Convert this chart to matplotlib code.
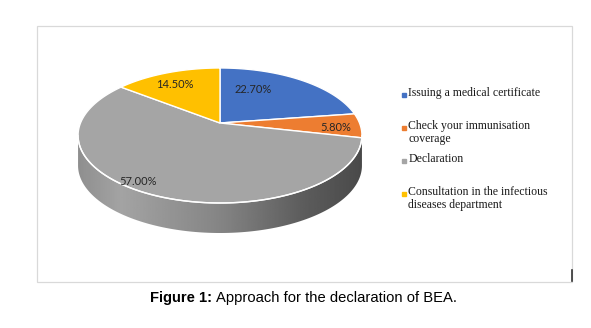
import matplotlib
matplotlib.use("Agg")
import matplotlib.pyplot as plt
import numpy as np
from matplotlib.patches import Polygon, Rectangle

# Data
categories = ["Issuing a medical certificate",
              "Check your immunisation\ncoverage",
              "Declaration",
              "Consultation in the infectious\ndiseases department"]
shares = [22.70, 5.80, 57.00, 14.50]
colors = ["#4472c4", "#ed7d31", "#a5a5a5", "#ffc000"]

W, H = 591, 328
fig = plt.figure(figsize=(W / 100, H / 100), dpi=100)

# whole-figure axes in pixel units
ax = fig.add_axes([0, 0, 1, 1])
ax.set_xlim(0, W)
ax.set_ylim(H, 0)
ax.axis("off")

# chart frame
ax.add_patch(Rectangle((37, 26), 572 - 37, 282 - 26, fill=False, ec="#d9d9d9", lw=0.9))
ax.plot([572, 572], [270, 281], color="#333333", lw=1.2)

# tilted disc seen in perspective
cx, cy = 220, 123          # centre of the pie on screen
sx, sy = 139.5, 65.2       # scale
e = 0.185                  # perspective strength
depth = 30


def project(r, phi):
    d = 1 + e * r * np.sin(phi)
    return cx + sx * r * np.cos(phi) / d, cy - sy * r * np.sin(phi) / d


# side of the disc, shaded
a0 = np.pi + np.arcsin(e)
t = np.linspace(a0, 3 * np.pi - a0, 200)
tx, ty = project(1.0, t)
side_xy = np.concatenate([np.c_[tx, ty], np.c_[tx[::-1], ty[::-1] + depth]])
side = Polygon(side_xy, closed=True, fc="none", ec="none")
ax.add_patch(side)
gx = np.linspace(0, 1, 256)
shade = np.interp(gx, [0, 0.15, 0.5, 0.8, 1.0], [0.56, 0.64, 0.52, 0.36, 0.29])
img = ax.imshow(np.tile(shade, (10, 1)), cmap="gray", vmin=0, vmax=1,
                extent=(tx.min(), tx.max(), ty.max() + depth + 2, cy), aspect="auto", zorder=1)
img.set_clip_path(side)

# top surface wedges, clockwise from 12 o'clock
cum = np.concatenate([[0], np.cumsum(shares)]) / 100.0
for i, c in enumerate(colors):
    a1 = np.deg2rad(90 - cum[i] * 360)
    a2 = np.deg2rad(90 - cum[i + 1] * 360)
    px, py = project(1.0, np.linspace(a1, a2, 150))
    pts = np.vstack([[cx, cy], np.c_[px, py]])
    ax.add_patch(Polygon(pts, closed=True, fc=c, ec="white", lw=1.0, zorder=2))

# white rim along the front edge
ax.plot(tx, ty, color="white", lw=1.0, zorder=3)

# data labels
label_r = [0.62, 0.82, 0.92, 0.75]
label_shift = [16, -3, -8, 3]
for i, v in enumerate(shares):
    mid = np.deg2rad(90 - (cum[i] + cum[i + 1]) / 2 * 360 + label_shift[i])
    lx, ly = project(label_r[i], mid)
    ax.text(lx, ly, f"{v:.2f}%", ha="center", va="center", fontsize=8,
            family="Lato", color="#262626", zorder=4)

# legend, equal slot pitch, text top aligned
for i, (lab, c) in enumerate(zip(categories, colors)):
    top = 87 + 33 * i
    ax.text(408.5, top, lab, ha="left", va="top", fontsize=8.5,
            family="Liberation Serif", color="#1a1a1a", linespacing=1.1)
    ax.plot([403.5], [top + 8], marker="s", ms=2.4, color=c, lw=0)

# caption with bold lead
renderer = fig.canvas.get_renderer()
t1 = ax.text(150, 298, "Figure 1:", ha="left", va="center",
             fontsize=10.6, family="Liberation Sans", weight="bold")
bb = t1.get_window_extent(renderer)
x_end = ax.transData.inverted().transform((bb.x1, bb.y0))[0]
ax.text(x_end + 3.5, 298, "Approach for the declaration of BEA.",
        ha="left", va="center", fontsize=10.6, family="Liberation Sans")

fig.savefig("out.png", dpi=100)
